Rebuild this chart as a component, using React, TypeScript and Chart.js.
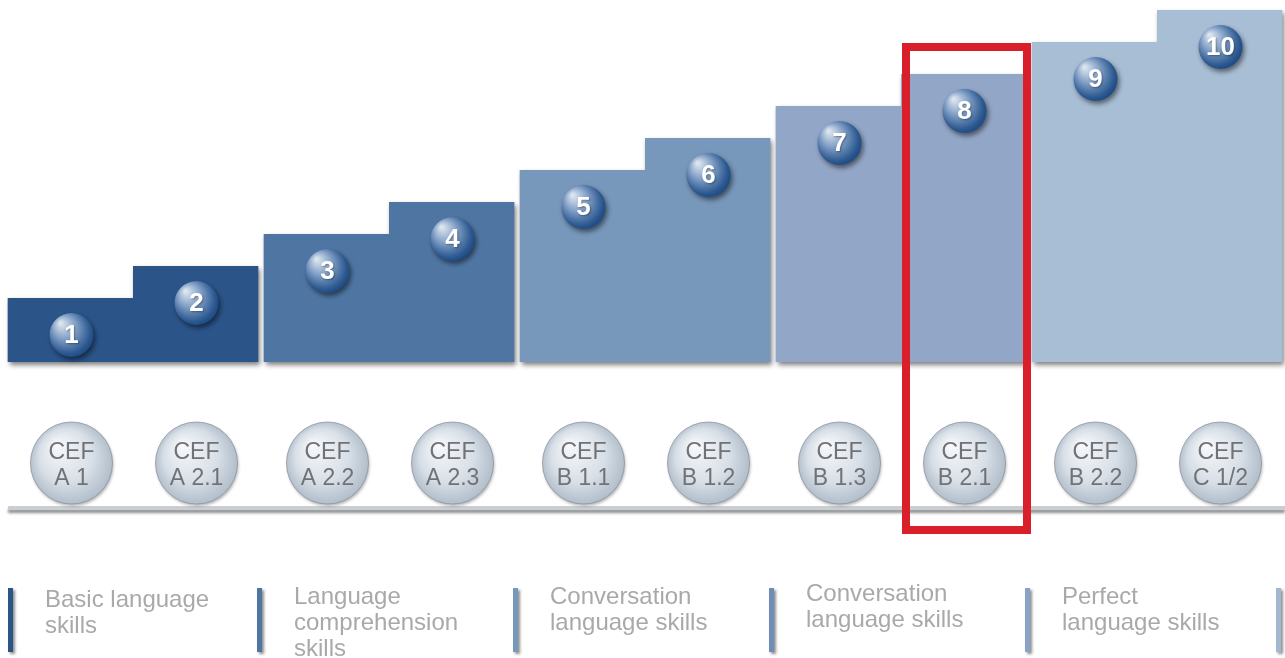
import React, { useEffect, useRef } from "react";
import { Chart, registerables } from "chart.js";

Chart.register(...registerables);

const levels = ["1", "2", "3", "4", "5", "6", "7", "8", "9", "10"];
const stepHeights = [2, 3, 4, 5, 6, 7, 8, 9, 10, 11];
const barColors = [
  "#2b5489", "#2b5489",
  "#4f76a3", "#4f76a3",
  "#7797bb", "#7797bb",
  "#92a6c7", "#92a6c7",
  "#a8bed5", "#a8bed5",
];
const cefTop = ["CEF", "CEF", "CEF", "CEF", "CEF", "CEF", "CEF", "CEF", "CEF", "CEF"];
const cefLevels = ["A 1", "A 2.1", "A 2.2", "A 2.3", "B 1.1", "B 1.2", "B 1.3", "B 2.1", "B 2.2", "C 1/2"];
const groupLabels = [
  ["Basic language", "skills"],
  ["Language", "comprehension", "skills"],
  ["Conversation", "language skills"],
  ["Conversation", "language skills"],
  ["Perfect", "language skills"],
];
const groupBarColors = ["#2b5489", "#4f75a3", "#7797bb", "#6f8db6", "#8aa3c4", "#a3b8d0"];
const highlightIndex = 7;

const FONT = '"Liberation Sans", Arial, sans-serif';

function drawSphere(ctx: CanvasRenderingContext2D, x: number, y: number, r: number, label: string) {
  ctx.save();
  ctx.shadowColor = "rgba(0,0,0,0.5)";
  ctx.shadowBlur = 5;
  ctx.shadowOffsetX = 2;
  ctx.shadowOffsetY = 3;
  const g = ctx.createRadialGradient(x - r * 0.5, y - r * 0.55, r * 0.05, x - r * 0.1, y - r * 0.1, r * 1.2);
  g.addColorStop(0, "#dce5ef");
  g.addColorStop(0.45, "#7c9bc3");
  g.addColorStop(0.85, "#2a578f");
  g.addColorStop(1, "#1b467f");
  ctx.fillStyle = g;
  ctx.beginPath();
  ctx.arc(x, y, r, 0, Math.PI * 2);
  ctx.fill();
  ctx.restore();
  ctx.save();
  ctx.shadowColor = "rgba(0,0,0,0.35)";
  ctx.shadowBlur = 2;
  ctx.shadowOffsetX = 1;
  ctx.shadowOffsetY = 1;
  ctx.fillStyle = "#ffffff";
  ctx.font = `bold 26px ${FONT}`;
  ctx.textAlign = "center";
  ctx.textBaseline = "middle";
  ctx.fillText(label, x, y + 1);
  ctx.restore();
}

function drawBall(ctx: CanvasRenderingContext2D, x: number, y: number, r: number, l1: string, l2: string) {
  ctx.save();
  ctx.shadowColor = "rgba(0,0,0,0.3)";
  ctx.shadowBlur = 3;
  ctx.shadowOffsetX = 1;
  ctx.shadowOffsetY = 2;
  const g = ctx.createRadialGradient(x - r * 0.35, y - r * 0.45, r * 0.05, x, y, r * 1.05);
  g.addColorStop(0, "#f6f8fa");
  g.addColorStop(0.6, "#d8dfe7");
  g.addColorStop(1, "#aebbc8");
  ctx.fillStyle = g;
  ctx.beginPath();
  ctx.arc(x, y, r, 0, Math.PI * 2);
  ctx.fill();
  ctx.restore();
  ctx.save();
  ctx.strokeStyle = "rgba(140,150,162,0.8)";
  ctx.lineWidth = 1;
  ctx.beginPath();
  ctx.arc(x, y, r, 0, Math.PI * 2);
  ctx.stroke();
  ctx.fillStyle = "#6f7377";
  ctx.font = `23px ${FONT}`;
  ctx.textAlign = "center";
  ctx.textBaseline = "middle";
  ctx.fillText(l1, x, y - 10);
  ctx.fillText(l2, x, y + 16);
  ctx.restore();
}

function visibleCenter(el: any, i: number) {
  return i % 2 === 0 ? el.x + 1.5 : el.x - 1.5;
}

const decorPlugin = {
  id: "decor",
  beforeDatasetsDraw(chart: any) {
    const ctx: CanvasRenderingContext2D = chart.ctx;
    const meta = chart.getDatasetMeta(0);
    for (let p = 0; p + 1 < meta.data.length; p += 2) {
      const a = meta.data[p];
      const b = meta.data[p + 1];
      const left = a.x - a.width / 2 + 3;
      const mid = a.x + a.width / 2;
      const right = b.x + b.width / 2 - 3;
      ctx.save();
      ctx.shadowColor = "rgba(0,0,0,0.5)";
      ctx.shadowBlur = 5;
      ctx.shadowOffsetX = 2;
      ctx.shadowOffsetY = 3;
      ctx.fillStyle = barColors[p];
      ctx.beginPath();
      ctx.rect(left, a.y, mid - left, a.base - a.y);
      ctx.rect(mid, b.y, right - mid, b.base - b.y);
      ctx.fill();
      ctx.restore();
    }
  },
  afterDatasetsDraw(chart: any) {
    const ctx: CanvasRenderingContext2D = chart.ctx;
    const meta = chart.getDatasetMeta(0);
    const area = chart.chartArea;
    const W = chart.width;

    // numbered spheres
    meta.data.forEach((el: any, i: number) => {
      drawSphere(ctx, visibleCenter(el, i) + 1, el.y + 37, 22, levels[i]);
    });

    // baseline
    const lineY = area.bottom + 144;
    ctx.save();
    ctx.shadowColor = "rgba(0,0,0,0.45)";
    ctx.shadowBlur = 3;
    ctx.shadowOffsetY = 3;
    ctx.fillStyle = "#c9ced5";
    ctx.fillRect(area.left + 3, lineY, area.right - area.left - 3, 4);
    ctx.restore();

    // CEF balls
    meta.data.forEach((el: any, i: number) => {
      drawBall(ctx, visibleCenter(el, i) + 1, lineY - 43, 41, cefTop[i], cefLevels[i]);
    });

    // legend groups
    const boundaries: number[] = [];
    for (let p = 0; p <= meta.data.length; p += 2) {
      if (p < meta.data.length) {
        const el = meta.data[p];
        boundaries.push(el.x - el.width / 2);
      } else {
        const el = meta.data[p - 1];
        boundaries.push(el.x + el.width / 2);
      }
    }
    const textTops = [600, 597, 597, 594, 597];
    boundaries.forEach((bx, gi) => {
      const x = Math.min(Math.max(bx - 1, 11), W - 6);
      ctx.save();
      ctx.shadowColor = "rgba(0,0,0,0.45)";
      ctx.shadowBlur = 3;
      ctx.shadowOffsetX = 2;
      ctx.shadowOffsetY = 2;
      ctx.fillStyle = groupBarColors[gi];
      ctx.fillRect(x - 3, area.bottom + 226, 5, 64);
      ctx.restore();
    });
    ctx.save();
    ctx.fillStyle = "#a9a9a9";
    ctx.font = `24px ${FONT}`;
    ctx.textAlign = "left";
    ctx.textBaseline = "middle";
    groupLabels.forEach((lines, gi) => {
      const x = Math.max(boundaries[gi] + 33, 45);
      lines.forEach((t, li) => {
        ctx.fillText(t, x, textTops[gi] + li * 26);
      });
    });
    ctx.restore();

    // highlight frame
    const h = meta.data[highlightIndex];
    if (h) {
      const l = h.x - h.width / 2 + 5;
      const r = h.x + h.width / 2 - 2;
      ctx.save();
      ctx.strokeStyle = "#d9202a";
      ctx.lineWidth = 8;
      ctx.strokeRect(l, h.y - 27, r - l, lineY + 24 - (h.y - 27));
      ctx.restore();
    }
  },
};

export default function App() {
  const canvasRef = useRef<HTMLCanvasElement | null>(null);

  useEffect(() => {
    const canvas = canvasRef.current;
    if (!canvas) return;
    const chart = new Chart(canvas, {
      type: "bar",
      data: {
        labels: levels,
        datasets: [
          {
            data: stepHeights,
            backgroundColor: barColors,
            borderColor: "rgba(0,0,0,0)",
            borderWidth: stepHeights.map((_, i) =>
              i % 2 === 0 ? { left: 3, right: 0, top: 0, bottom: 0 } : { left: 0, right: 3, top: 0, bottom: 0 }
            ) as any,
            borderSkipped: false,
            categoryPercentage: 1,
            barPercentage: 1,
          },
        ],
      },
      options: {
        animation: false,
        responsive: false,
        devicePixelRatio: 1,
        layout: { padding: { top: 10, left: 5, right: 0, bottom: 296 } },
        plugins: { legend: { display: false }, tooltip: { enabled: false } },
        scales: {
          x: { display: false },
          y: { display: false, min: 0, max: 11 },
        },
      },
      plugins: [decorPlugin],
    });
    return () => chart.destroy();
  }, []);

  return (
    <div style={{ position: "absolute", left: 0, top: 0, width: 1285, height: 658, background: "#fff", overflow: "hidden" }}>
      <canvas ref={canvasRef} width={1285} height={658} style={{ display: "block" }} />
    </div>
  );
}
